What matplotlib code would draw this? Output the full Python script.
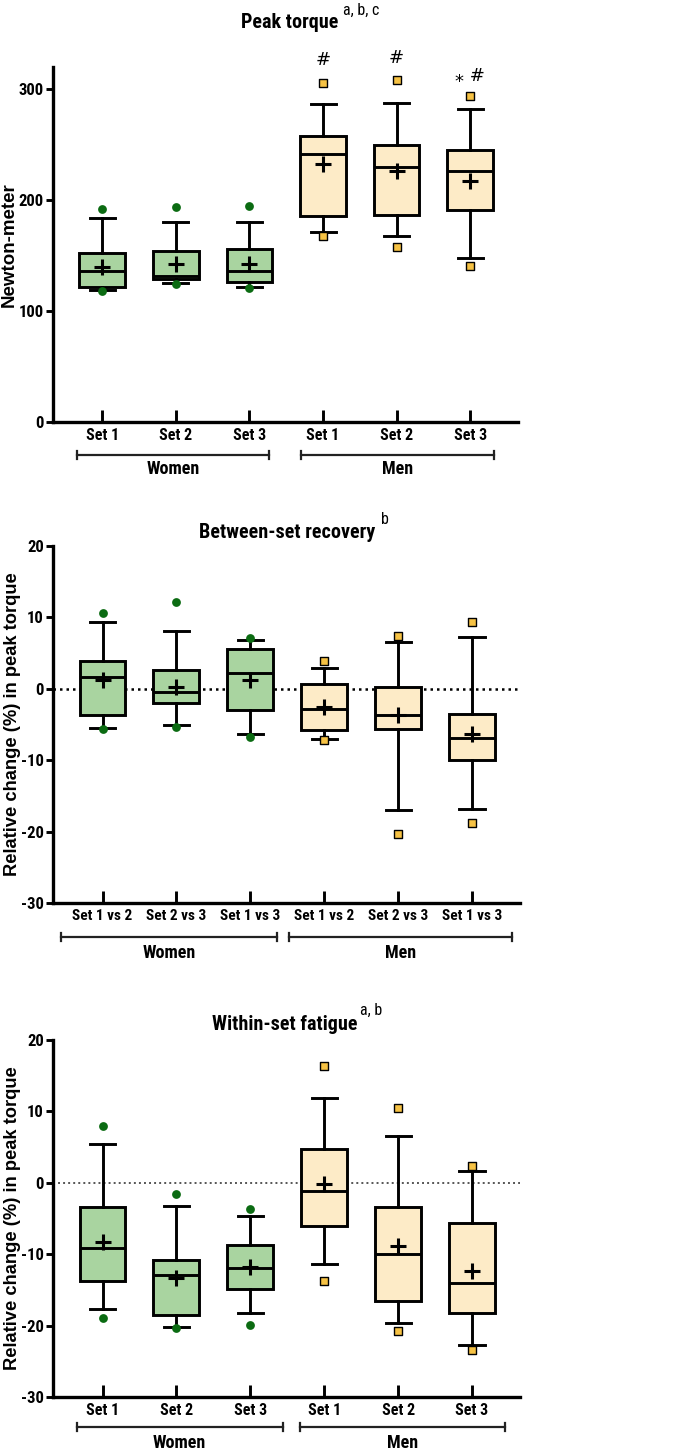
import matplotlib
matplotlib.use('Agg')
import matplotlib.pyplot as plt
import matplotlib.transforms as mtransforms
from matplotlib import font_manager

# pick a narrow font if one is installed, else plain Liberation Sans a bit smaller
names = {f.name for f in font_manager.fontManager.ttflist}
NARROW = None
for cand in ['Liberation Sans Narrow', 'Roboto Condensed', 'Arial Narrow', 'DejaVu Sans Condensed']:
    if cand in names:
        NARROW = cand
        break
SCALE = 1.0 if NARROW else 0.86
if NARROW is None:
    NARROW = 'Liberation Sans'
plt.rcParams['font.family'] = ['Liberation Sans', 'DejaVu Sans']
plt.rcParams['axes.unicode_minus'] = False

# ---------------- data ----------------
groups = ['Women', 'Men']
set_labels = ['Set 1', 'Set 2', 'Set 3', 'Set 1', 'Set 2', 'Set 3']
vs_labels = ['Set 1 vs 2', 'Set 2 vs 3', 'Set 1 vs 3', 'Set 1 vs 2', 'Set 2 vs 3', 'Set 1 vs 3']

# Peak torque (N·m): q1, median, q3, whisker low, whisker high, mean, outliers
pt_q1 = [122, 129, 126, 186, 187, 191]
pt_med = [136, 132, 136, 242, 230, 226]
pt_q3 = [152, 154, 156, 258, 250, 245]
pt_wlo = [119, 125, 122, 171, 168, 148]
pt_whi = [184, 180, 180, 287, 288, 282]
pt_mean = [140, 142, 142, 233, 226, 217]
pt_out = [[118, 192], [124, 194], [121, 195], [168, 306], [158, 308], [141, 294]]
pt_marks = ['', '', '', '#', '#', '\u204e #']

# Between-set recovery (%)
br_q1 = [-3.6, -2.0, -2.9, -5.8, -5.7, -10.0]
br_med = [1.6, -0.4, 2.2, -2.8, -3.6, -6.9]
br_q3 = [3.9, 2.6, 5.6, 0.7, 0.3, -3.5]
br_wlo = [-5.5, -5.0, -6.3, -7.0, -17.0, -16.8]
br_whi = [9.4, 8.1, 6.8, 2.9, 6.6, 7.2]
br_mean = [1.3, 0.3, 1.3, -2.6, -3.7, -6.3]
br_out = [[-5.7, 10.6], [-5.3, 12.1], [-6.7, 7.1], [-7.2, 3.9], [-20.3, 7.4], [-18.8, 9.3]]

# Within-set fatigue (%)
wf_q1 = [-13.7, -18.5, -14.9, -6.0, -16.5, -18.3]
wf_med = [-9.1, -12.9, -12.0, -1.2, -10.0, -14.0]
wf_q3 = [-3.4, -10.8, -8.7, 4.8, -3.4, -5.7]
wf_wlo = [-17.7, -20.2, -18.3, -11.4, -19.7, -22.7]
wf_whi = [5.5, -3.3, -4.6, 11.9, 6.5, 1.7]
wf_mean = [-8.3, -13.3, -11.8, -0.2, -8.9, -12.4]
wf_out = [[-18.9, 8.0], [-20.3, -1.5], [-19.9, -3.6], [-13.7, 16.4], [-20.8, 10.5], [-23.4, 2.3]]

GREEN_FILL = '#a9d4a0'
GREEN_DOT = '#0b6b12'
YEL_FILL = '#fdebc7'
YEL_DOT = '#f6c244'
LW = 2.1

W, H = 685, 1452
fig = plt.figure(figsize=(W / 100, H / 100), dpi=100)


def px_axes(left, top, right, bottom):
    return fig.add_axes([left / W, 1 - bottom / H, (right - left) / W, (bottom - top) / H])


def fig_text(x, y, s, **kw):
    fig.text(x / W, 1 - y / H, s, **kw)


def draw_panel(ax, q1, med, q3, wlo, whi, mean, out, labels, ylim, yticks, xfs,
               brackets, zero_style=None, ylabel='', ylabel_x=-0.09, ylabel_fs=13):
    stats = []
    for i in range(6):
        stats.append(dict(q1=q1[i], med=med[i], q3=q3[i], whislo=wlo[i], whishi=whi[i],
                          mean=mean[i], fliers=[]))
    pos = list(range(6))
    bp = ax.bxp(stats, positions=pos, widths=0.62, showmeans=True, showfliers=False,
                patch_artist=True, capwidths=0.34,
                boxprops=dict(linewidth=LW, edgecolor='black'),
                medianprops=dict(color='black', linewidth=LW),
                whiskerprops=dict(color='black', linewidth=LW),
                capprops=dict(color='black', linewidth=LW),
                meanprops=dict(marker='+', markeredgecolor='black', markersize=11,
                               markeredgewidth=2.2))
    for i, b in enumerate(bp['boxes']):
        b.set_facecolor(GREEN_FILL if i < 3 else YEL_FILL)
        b.set_zorder(2)
    for i in range(6):
        if i < 3:
            ax.scatter([i] * len(out[i]), out[i], s=40, marker='o', color=GREEN_DOT,
                       zorder=5, linewidths=0)
        else:
            ax.scatter([i] * len(out[i]), out[i], s=34, marker='s', color=YEL_DOT,
                       edgecolors='black', linewidths=1.0, zorder=5)
    if zero_style == 'black':
        ax.axhline(0, color='black', linestyle=(0, (1, 1.6)), linewidth=1.8, zorder=1)
    elif zero_style == 'grey':
        ax.axhline(0, color='#555555', linestyle=(0, (1, 1.6)), linewidth=1.4, zorder=1)

    ax.set_xlim(-0.67, 5.65)
    ax.set_ylim(*ylim)
    ax.set_yticks(yticks)
    ax.set_xticks(pos)
    ax.set_xticklabels(labels, fontfamily=NARROW, fontweight='bold', fontsize=xfs * SCALE)
    for lab in ax.get_yticklabels():
        lab.set_fontfamily(NARROW)
        lab.set_fontweight('bold')
        lab.set_fontsize(12 * SCALE)
    ax.tick_params(axis='x', direction='in', length=9, width=LW, pad=4)
    ax.tick_params(axis='y', direction='out', length=5, width=LW, pad=1.5)
    for s in ['top', 'right']:
        ax.spines[s].set_visible(False)
    for s in ['left', 'bottom']:
        ax.spines[s].set_linewidth(2.4)

    trans = mtransforms.blended_transform_factory(ax.transData, ax.transAxes)
    (wx0, wx1), (mx0, mx1), yb, yl = brackets
    for (x0, x1), name in zip([(wx0, wx1), (mx0, mx1)], groups):
        ax.plot([x0, x1], [yb, yb], transform=trans, color='#222222', lw=1.6, clip_on=False)
        for xe in (x0, x1):
            ax.plot([xe, xe], [yb - 0.012, yb + 0.012], transform=trans, color='#222222',
                    lw=1.6, clip_on=False)
        ax.text((x0 + x1) / 2, yl, name, transform=trans, ha='center', va='center',
                fontfamily=NARROW, fontweight='bold', fontsize=13 * SCALE)
    if ylabel:
        ax.set_ylabel(ylabel, fontweight='bold', fontsize=ylabel_fs, va='center')
        ax.yaxis.set_label_coords(ylabel_x, 0.5)


def panel_title(xc, y, title, sup, sup_x, sup_y):
    fig_text(xc, y, title, ha='center', va='center', fontfamily=NARROW,
             fontweight='bold', fontsize=14.5 * SCALE)
    fig_text(sup_x, sup_y, sup, ha='left', va='center', fontfamily=NARROW,
             fontsize=11.5 * SCALE)


# Panel 1
ax1 = px_axes(53, 67, 518, 422)
draw_panel(ax1, pt_q1, pt_med, pt_q3, pt_wlo, pt_whi, pt_mean, pt_out, set_labels,
           (0, 320), [0, 100, 200, 300], 11.5,
           ((-0.35, 2.27), (2.70, 5.33), -0.093, -0.132), ylabel='Newton-meter',
           ylabel_x=-0.095, ylabel_fs=13.5)
panel_title(290, 23, 'Peak torque', 'a, b, c', 343, 10)
for i, m in enumerate(pt_marks):
    if m:
        top = max(pt_out[i])
        ax1.annotate(m, (i, top), xytext=(0, 16 if i < 5 else 14),
                     textcoords='offset points', ha='center', va='center',
                     fontsize=13, fontfamily='DejaVu Sans')

# Panel 2
ax2 = px_axes(53, 546, 520, 903)
draw_panel(ax2, br_q1, br_med, br_q3, br_wlo, br_whi, br_mean, br_out, vs_labels,
           (-30, 20), [-30, -20, -10, 0, 10, 20], 11,
           ((-0.56, 2.36), (2.53, 5.54), -0.095, -0.14), zero_style='black',
           ylabel='Relative change (%) in peak torque', ylabel_x=-0.086, ylabel_fs=13.2)
panel_title(287, 533, 'Between-set recovery', 'b', 381, 519)

# Panel 3
ax3 = px_axes(53, 1040, 520, 1397)
draw_panel(ax3, wf_q1, wf_med, wf_q3, wf_wlo, wf_whi, wf_mean, wf_out, set_labels,
           (-30, 20), [-30, -20, -10, 0, 10, 20], 11.5,
           ((-0.35, 2.44), (2.67, 5.45), -0.084, -0.128), zero_style='grey',
           ylabel='Relative change (%) in peak torque', ylabel_x=-0.086, ylabel_fs=13.2)
panel_title(285, 1025, 'Within-set fatigue', 'a, b', 360, 1010)

fig.savefig('out.png', dpi=100)
